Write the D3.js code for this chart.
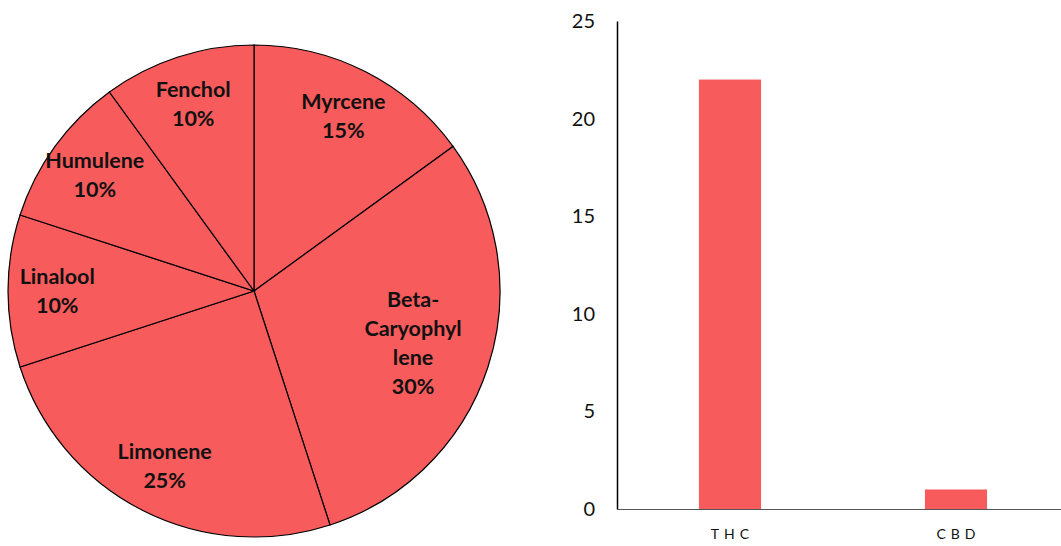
<!DOCTYPE html>
<html lang="en">
<head>
    <meta charset="UTF-8"/>
    <title>terpenes</title>
    <script src="https://d3js.org/d3.v7.min.js"></script>
    <style>
        body { margin: 0; background: #fff; }
        text { font-family: Lato, "Open Sans", sans-serif; }
        .slice-label { font-size: 21.5px; font-weight: bold; fill: #111; }
        .axis text { font-size: 20px; fill: #111; }
        .cat text { font-size: 14px; letter-spacing: 5px; fill: #111; }
    </style>
</head>
<body></body>
<script type="text/javascript">
    // pie data
    let terpenes = ["Myrcene", "Beta-Caryophyllene", "Limonene", "Linalool", "Humulene", "Fenchol"];
    let shares = [15, 30, 25, 10, 10, 10];
    // how Excel wrapped the labels
    let labelLines = [["Myrcene"], ["Beta-", "Caryophyl", "lene"], ["Limonene"], ["Linalool"], ["Humulene"], ["Fenchol"]];

    // bar data
    let cannabinoids = ["THC", "CBD"];
    let amounts = [22, 1];
    let yTicks = [0, 5, 10, 15, 20, 25];

    let width = 1061, height = 546;
    let color = "#f85b5c";

    let svg = d3.select("body").append("svg")
        .attr("width", width)
        .attr("height", height);

    // ---- pie ----
    let cx = 254, cy = 291, R = 246;
    let pieData = terpenes.map((t, i) => ({name: t, value: shares[i], lines: labelLines[i]}));
    let pie = d3.pie().sort(null).value(d => d.value);
    let arc = d3.arc().innerRadius(0).outerRadius(R);

    let pg = svg.append("g").attr("transform", "translate(" + cx + "," + cy + ")");
    let arcs = pie(pieData);

    pg.selectAll("path")
        .data(arcs)
        .enter().append("path")
        .attr("d", arc)
        .style("fill", color)
        .style("stroke", "#000")
        .style("stroke-width", 1.2);

    let lineH = 29;
    arcs.forEach(a => {
        let lines = a.data.lines.concat([a.data.value + "%"]);
        let lr = lines.length > 2 ? 0.68 * R : 0.8 * R;
        let mid = (a.startAngle + a.endAngle) / 2;
        let x = lr * Math.sin(mid), y = -lr * Math.cos(mid);
        let t = pg.append("text")
            .attr("class", "slice-label")
            .attr("text-anchor", "middle")
            .attr("x", x)
            .attr("y", y - (lines.length - 1) * lineH / 2);
        lines.forEach((l, j) => {
            t.append("tspan")
                .attr("x", x)
                .attr("dy", j === 0 ? "0.35em" : lineH)
                .text(l);
        });
    });

    // ---- bars ----
    let x0 = 617, x1 = 1069, yTop = 21, yBase = 509;

    let scaleX = d3.scaleBand()
        .domain(cannabinoids)
        .range([x0, x1])
        .paddingInner(0.725)
        .paddingOuter(0.3625);
    let scaleY = d3.scaleLinear()
        .domain([0, 25])
        .range([yBase, yTop]);

    svg.selectAll(".bar")
        .data(cannabinoids)
        .enter().append("rect")
        .attr("class", "bar")
        .attr("x", d => scaleX(d))
        .attr("width", scaleX.bandwidth())
        .attr("y", (d, i) => scaleY(amounts[i]))
        .attr("height", (d, i) => yBase - scaleY(amounts[i]))
        .style("fill", color);

    let yAxis = d3.axisLeft(scaleY).tickValues(yTicks).tickSize(0).tickPadding(22);
    let gy = svg.append("g")
        .attr("class", "axis")
        .attr("transform", "translate(" + x0 + ",0)")
        .call(yAxis);
    gy.select(".domain").style("stroke", "#000").style("stroke-width", 1.5);

    let xAxis = d3.axisBottom(scaleX).tickSize(0).tickPadding(20);
    let gx = svg.append("g")
        .attr("class", "cat")
        .attr("transform", "translate(0," + yBase + ")")
        .call(xAxis);
    gx.selectAll("text").attr("dx", "2.5px");
    gx.select(".domain").style("stroke", "#555").style("stroke-width", 1.2);
</script>
</html>
